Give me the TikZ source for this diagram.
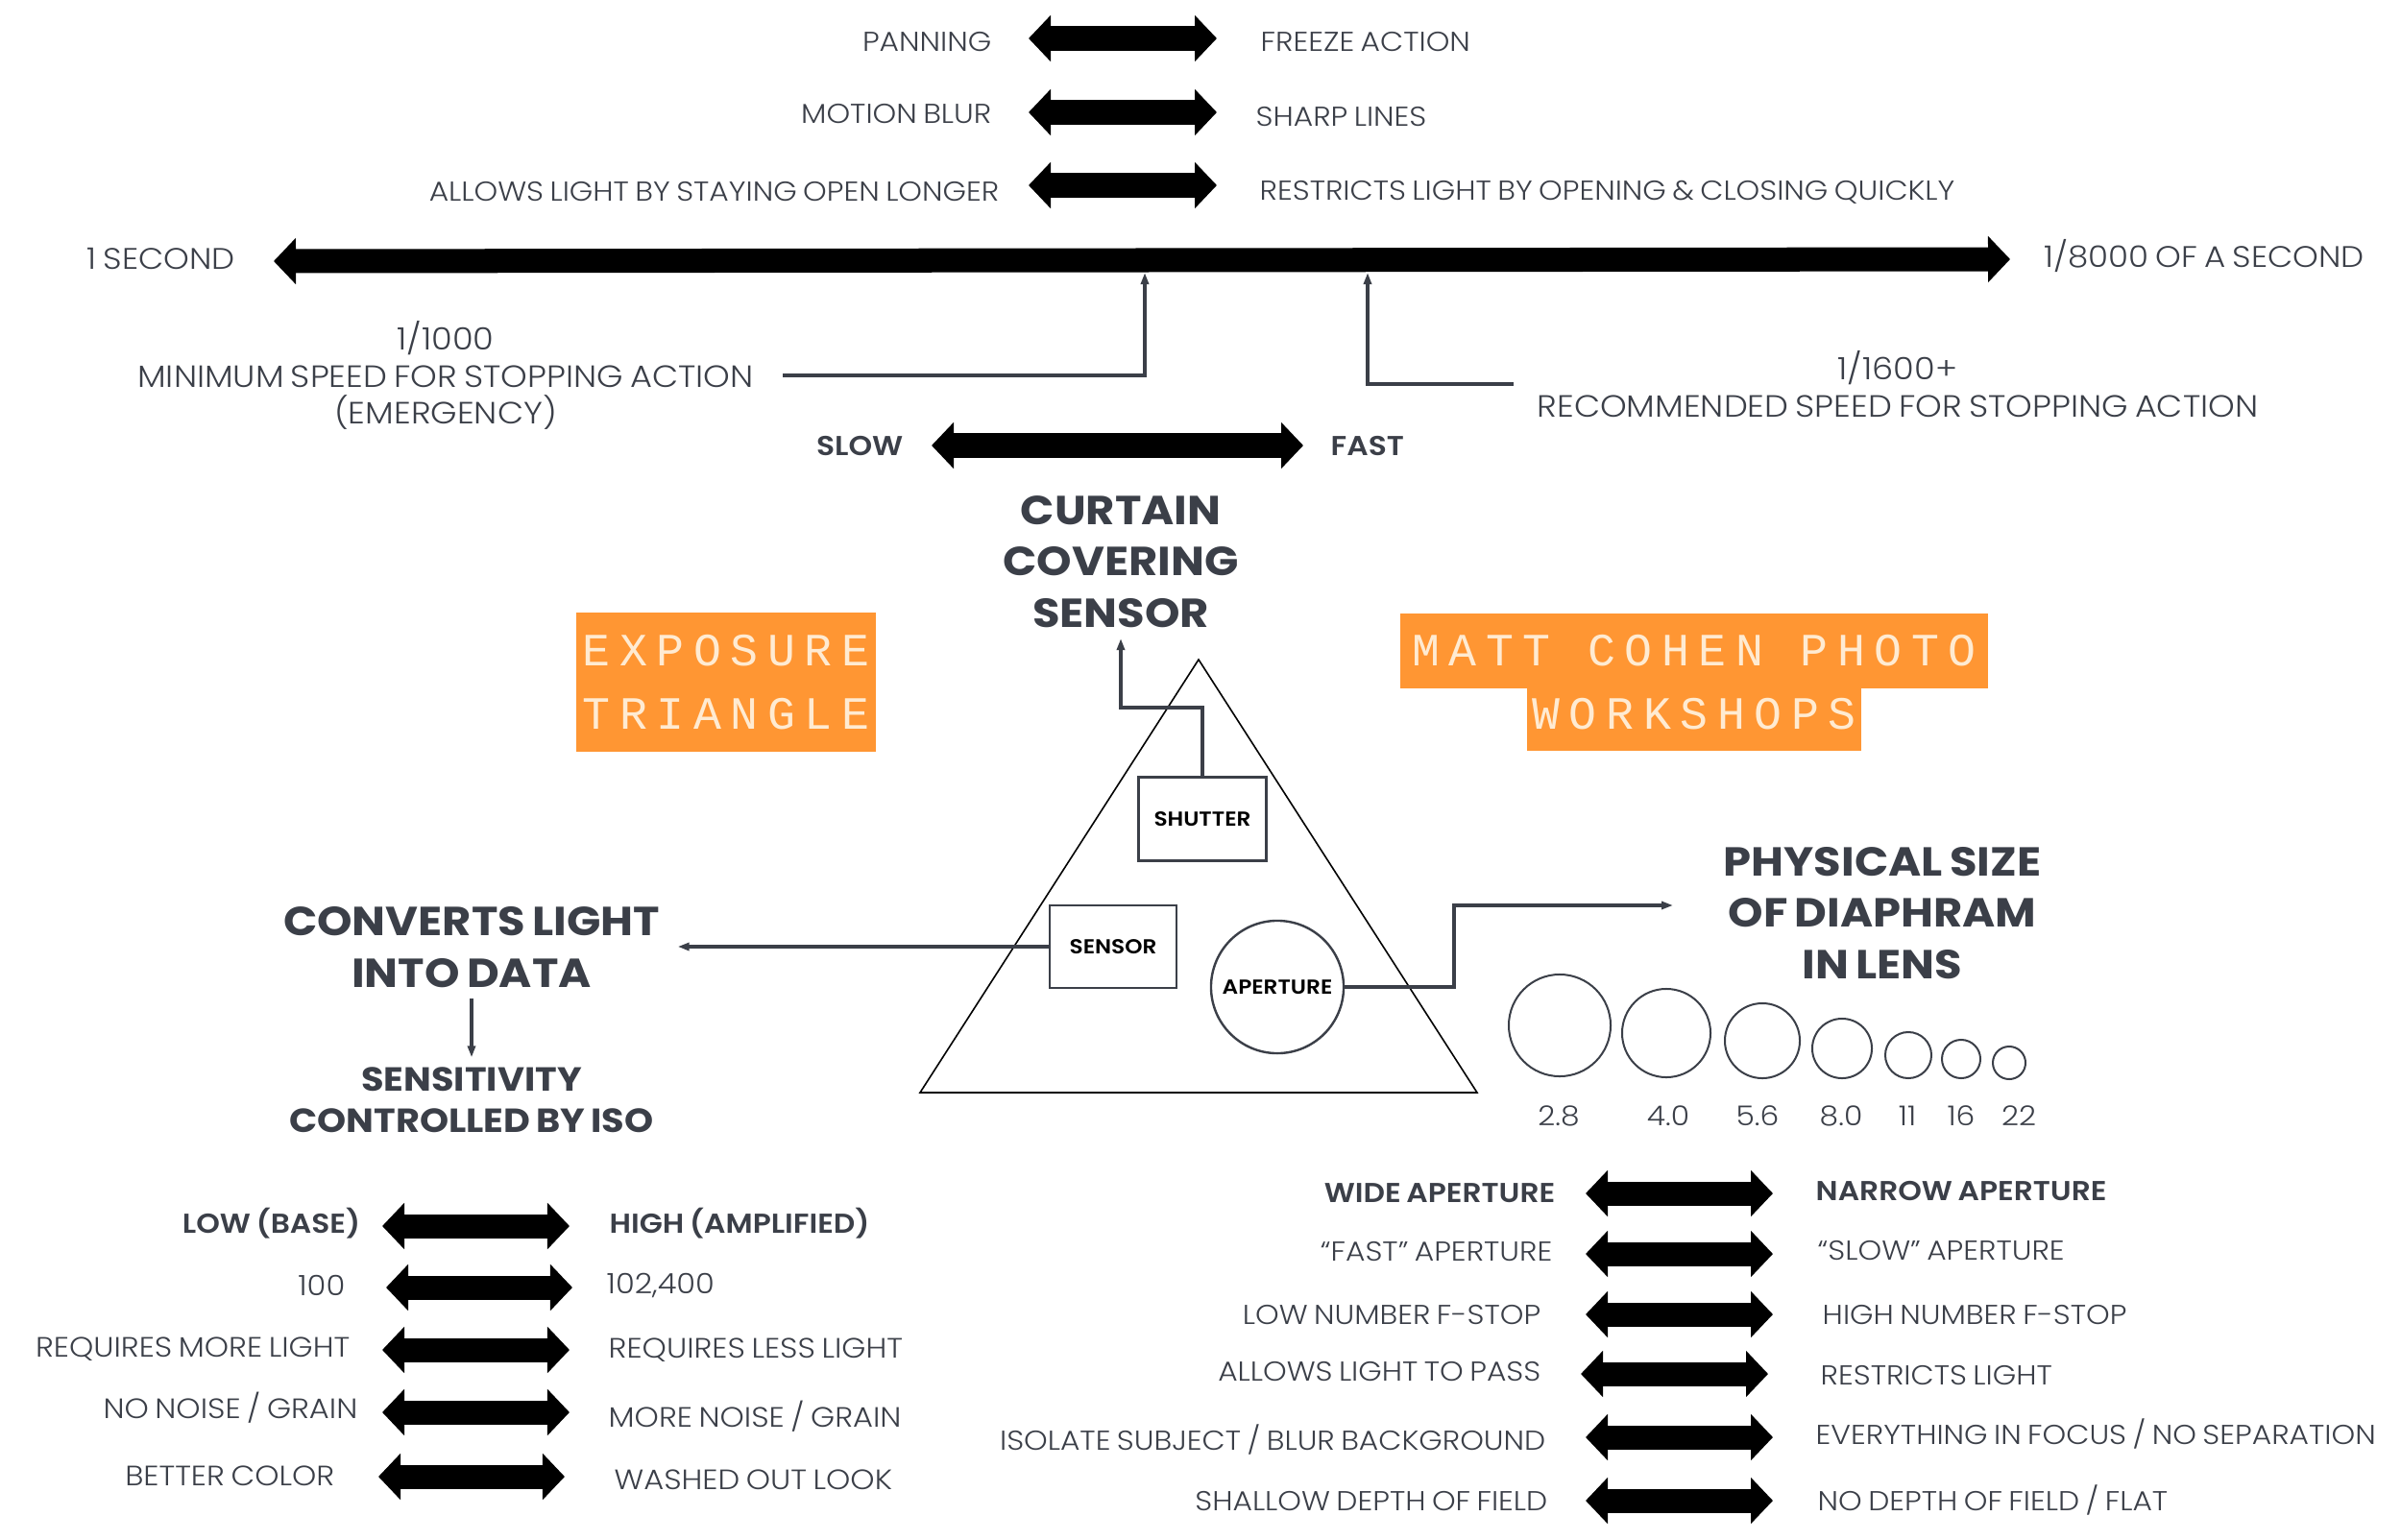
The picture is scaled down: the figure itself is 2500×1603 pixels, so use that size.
\documentclass[tikz,border=0pt]{standalone}
\usepackage{fontspec}
\setmainfont{Poppins}[UprightFont=* Light,BoldFont=* SemiBold,FakeStretch=1.1,WordSpace=.75]
\newfontfamily\headfont{Poppins}[UprightFont=* Bold,FakeStretch=1.1,WordSpace=.75]
\newfontfamily\stampfont[LetterSpace=20]{Liberation Mono}
\usetikzlibrary{arrows.meta}
\usetikzlibrary{shapes.geometric}
\definecolor{inkgrey}{HTML}{3B3F48}
\definecolor{stamporange}{HTML}{FF9633}
\definecolor{stamptext}{HTML}{FFEBD2}
\tikzset{
    fatarrow/.style={line width=.25cm, {Triangle[length=.23cm,width=.47cm]}-{Triangle[length=.23cm,width=.47cm]}},
    thinarrow/.style={inkgrey, line width=.035cm, -{Triangle[length=.12cm,width=.08cm]}},
    lbl/.style={inner sep=0, text=inkgrey, font=\fontsize{8.1}{10.9}\selectfont, text height=.2cm, text depth=0},
    lbll/.style={lbl, anchor=west},
    lblr/.style={lbl, anchor=east},
    bolda/.style={font=\fontsize{8.1}{10.9}\selectfont\bfseries},
    isolbl/.style={font=\fontsize{8.3}{10.9}\selectfont},
    endlbl/.style={font=\fontsize{8.8}{10.9}\selectfont},
    multi/.style={inner sep=0, text=inkgrey, font=\fontsize{9.1}{10.9}\selectfont, align=center},
    headline/.style={inner sep=0, text=inkgrey, align=center, font=\fontsize{12}{15.3}\selectfont\headfont},
    subhead/.style={inner sep=0, text=inkgrey, align=center, font=\fontsize{9.9}{12.2}\selectfont\headfont},
    stamp/.style={inner sep=0, fill=stamporange, text=stamptext, font=\fontsize{13.7}{14}\selectfont\stampfont, text height=.32cm},
    partbox/.style={draw=inkgrey, line width=.024cm, inner sep=0, font=\fontsize{6}{6}\selectfont\bfseries, text=black},
    lens/.style={draw=inkgrey, line width=.02cm, circle, inner sep=0},
    fnum/.style={lbl, anchor=center}
}
\begin{document}
\begin{tikzpicture}[x=.01cm, y=-.01cm]
    \useasboundingbox (0, 0) rectangle (2500, 1603);

    % shutter speed, top rows
    \node[lblr] (panning) at (1033, 43) {PANNING};
    \node[lbll] (freeze) at (1312, 43) {FREEZE ACTION};
    \coordinate (panl) at (1071, 40);
    \coordinate (panr) at (1267, 40);
    \draw[fatarrow] (panl) -- (panr);

    \node[lblr] (blur) at (1033, 118) {MOTION BLUR};
    \node[lbll] (sharp) at (1307, 121) {SHARP LINES};
    \coordinate (blurl) at (1071, 117);
    \coordinate (blurr) at (1267, 117);
    \draw[fatarrow] (blurl) -- (blurr);

    \node[lblr] (longer) at (1041, 199) {ALLOWS LIGHT BY STAYING OPEN LONGER};
    \node[lbll] (quick) at (1311, 198) {RESTRICTS LIGHT BY OPENING \& CLOSING QUICKLY};
    \coordinate (longl) at (1071, 193);
    \coordinate (longr) at (1267, 193);
    \draw[fatarrow] (longl) -- (longr);

    % main scale
    \node[lbll, endlbl] (second) at (90, 270) {1 SECOND};
    \node[lbll, endlbl] (eighth) at (2128, 268) {1/8000 OF A SECOND};
    \coordinate (scalel) at (285, 272);
    \coordinate (scaler) at (2093, 270);
    \draw[fatarrow] (scalel) -- (scaler);

    \node[multi] (minspeed) at (464, 391) {1/1000\\MINIMUM SPEED FOR STOPPING ACTION\\(EMERGENCY)};
    \coordinate (mintip) at (1192, 284);
    \draw[thinarrow, shorten <=.3cm] (minspeed.east) -| (mintip);

    \node[multi] (recspeed) at (1976, 400) {1/1600+\\RECOMMENDED SPEED FOR STOPPING ACTION};
    \coordinate (rectip) at (1424, 284);
    \draw[thinarrow, shorten <=.24cm] (recspeed.west) -| (rectip);

    \node[lblr, bolda] (slow) at (941, 464) {SLOW};
    \node[lbll, bolda] (fast) at (1385, 464) {FAST};
    \coordinate (slowl) at (970, 464);
    \coordinate (slowr) at (1357, 464);
    \draw[fatarrow] (slowl) -- (slowr);

    \node[headline] (curtain) at (1167, 585) {CURTAIN\\COVERING\\SENSOR};

    % orange stamps
    \node[stamp, minimum width=3.11cm, minimum height=.79cm] (expo) at (756, 677.5) {EXPOSURE};
    \node[stamp, minimum width=3.11cm, minimum height=.66cm, text depth=.13cm] (tri) at (756, 750) {TRIANGLE};
    \node[stamp, minimum width=6.12cm, minimum height=.78cm] (matt) at (1764, 678) {MATT COHEN PHOTO};
    \node[stamp, minimum width=3.47cm, minimum height=.65cm, text depth=.13cm] (work) at (1764, 749.5) {WORKSHOPS};

    % triangle
    \coordinate (apex) at (1248, 687);
    \coordinate (basel) at (958, 1138);
    \coordinate (baser) at (1538, 1138);
    \draw[black, line width=.016cm] (apex) -- (basel) -- (baser) -- cycle;

    \node[partbox, fill=white, minimum width=1.33cm, minimum height=.87cm] (shutter) at (1252, 853) {SHUTTER};
    \node[partbox, fill=white, minimum width=1.32cm, minimum height=.86cm] (sensor) at (1159, 986) {SENSOR};
    \node[partbox, fill=white, circle, minimum size=1.38cm] (aperture) at (1330, 1028) {APERTURE};

    \coordinate (curtaintip) at (1167, 665);
    \draw[thinarrow] (shutter.north) |- (1167, 737) -- (curtaintip);

    \node[headline] (converts) at (491, 987) {CONVERTS LIGHT\\INTO DATA};
    \draw[thinarrow, shorten >=.18cm] (sensor.west) -- (converts.east |- sensor.west);
    \node[subhead] (iso) at (491, 1146) {SENSITIVITY\\CONTROLLED BY ISO};
    \draw[thinarrow, shorten <=.1cm, shorten >=.1cm] (converts.south) -- (iso.north);

    \node[headline] (diaphram) at (1960, 951) {PHYSICAL SIZE\\OF DIAPHRAM\\IN LENS};
    \coordinate (diatip) at (1742, 943);
    \draw[thinarrow] (aperture.east) -- (1514, 1028) |- (diatip);

    % lens openings
    \node[lens, minimum size=1.06cm] (f28) at (1624, 1068) {};
    \node[lens, minimum size=.92cm] (f40) at (1735, 1076) {};
    \node[lens, minimum size=.78cm] (f56) at (1835, 1084) {};
    \node[lens, minimum size=.62cm] (f80) at (1918, 1092) {};
    \node[lens, minimum size=.48cm] (f11) at (1987, 1099) {};
    \node[lens, minimum size=.4cm] (f16) at (2042, 1103) {};
    \node[lens, minimum size=.34cm] (f22) at (2092, 1107) {};
    \node[fnum] (n28) at (1623, 1162) {2.8};
    \node[fnum] (n40) at (1737, 1162) {4.0};
    \node[fnum] (n56) at (1830, 1162) {5.6};
    \node[fnum] (n80) at (1917, 1162) {8.0};
    \node[fnum] (n11) at (1986, 1162) {11};
    \node[fnum] (n16) at (2042, 1162) {16};
    \node[fnum] (n22) at (2102, 1162) {22};

    % iso rows
    \node[lblr, bolda] (lowiso) at (376, 1274) {LOW (BASE)};
    \node[lbll, bolda] (highiso) at (634, 1274) {HIGH (AMPLIFIED)};
    \coordinate (isoal) at (398, 1277);
    \coordinate (isoar) at (593, 1277);
    \draw[fatarrow] (isoal) -- (isoar);

    \node[lblr, isolbl] (hundred) at (360, 1339) {100};
    \node[lbll, isolbl] (maxiso) at (631, 1337) {102,400};
    \coordinate (isobl) at (402, 1341);
    \coordinate (isobr) at (596, 1341);
    \draw[fatarrow] (isobl) -- (isobr);

    \node[lblr, isolbl] (morelight) at (365, 1403) {REQUIRES MORE LIGHT};
    \node[lbll, isolbl] (lesslight) at (633, 1404) {REQUIRES LESS LIGHT};
    \coordinate (isocl) at (398, 1406);
    \coordinate (isocr) at (593, 1406);
    \draw[fatarrow] (isocl) -- (isocr);

    \node[lblr, isolbl] (nonoise) at (373, 1467) {NO NOISE / GRAIN};
    \node[lbll, isolbl] (morenoise) at (633, 1476) {MORE NOISE / GRAIN};
    \coordinate (isodl) at (398, 1471);
    \coordinate (isodr) at (593, 1471);
    \draw[fatarrow] (isodl) -- (isodr);

    \node[lblr, isolbl] (bettercol) at (349, 1537) {BETTER COLOR};
    \node[lbll, isolbl] (washed) at (639, 1541) {WASHED OUT LOOK};
    \coordinate (isoel) at (394, 1538);
    \coordinate (isoer) at (588, 1538);
    \draw[fatarrow] (isoel) -- (isoer);

    % aperture rows
    \node[lblr, bolda] (wide) at (1620, 1242) {WIDE APERTURE};
    \node[lbll, bolda] (narrow) at (1890, 1240) {NARROW APERTURE};
    \coordinate (apal) at (1651, 1243);
    \coordinate (apar) at (1846, 1243);
    \draw[fatarrow] (apal) -- (apar);

    \node[lblr] (fastap) at (1617, 1303) {``FAST'' APERTURE};
    \node[lbll] (slowap) at (1892, 1302) {``SLOW'' APERTURE};
    \coordinate (apbl) at (1651, 1306);
    \coordinate (apbr) at (1846, 1306);
    \draw[fatarrow] (apbl) -- (apbr);

    \node[lblr] (lowstop) at (1605, 1369) {LOW NUMBER F-STOP};
    \node[lbll] (highstop) at (1897, 1369) {HIGH NUMBER F-STOP};
    \coordinate (apcl) at (1651, 1369);
    \coordinate (apcr) at (1846, 1369);
    \draw[fatarrow] (apcl) -- (apcr);

    \node[lblr] (pass) at (1605, 1428) {ALLOWS LIGHT TO PASS};
    \node[lbll] (restrict) at (1895, 1432) {RESTRICTS LIGHT};
    \coordinate (apdl) at (1646, 1431);
    \coordinate (apdr) at (1841, 1431);
    \draw[fatarrow] (apdl) -- (apdr);

    \node[lblr] (isolate) at (1610, 1500) {ISOLATE SUBJECT / BLUR BACKGROUND};
    \node[lbll] (focus) at (1890, 1494) {EVERYTHING IN FOCUS / NO SEPARATION};
    \coordinate (apel) at (1651, 1497);
    \coordinate (aper) at (1846, 1497);
    \draw[fatarrow] (apel) -- (aper);

    \node[lblr] (shallow) at (1612, 1563) {SHALLOW DEPTH OF FIELD};
    \node[lbll] (flat) at (1892, 1563) {NO DEPTH OF FIELD / FLAT};
    \coordinate (apfl) at (1651, 1563);
    \coordinate (apfr) at (1846, 1563);
    \draw[fatarrow] (apfl) -- (apfr);
\end{tikzpicture}
\end{document}
